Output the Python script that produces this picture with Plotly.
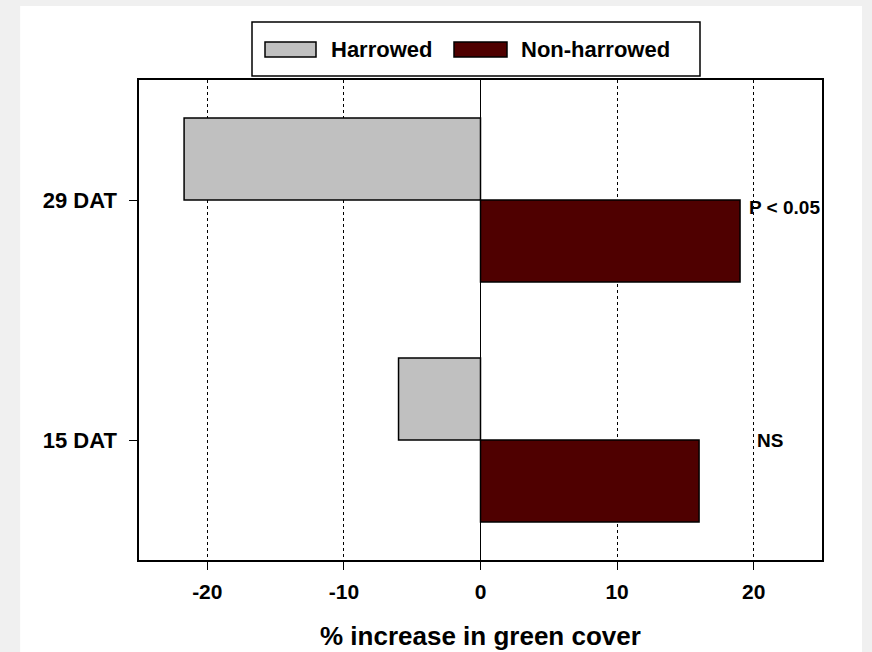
import plotly.graph_objects as go

# Data: % increase in green cover by sampling date and tillage treatment
dates = ["15 DAT", "29 DAT"]
harrowed = [-6.0, -21.7]
non_harrowed = [16.0, 19.0]
significance = ["NS", "P < 0.05"]
sig_x = [20.1, 19.5]
sig_y_shift = [0.0, -0.03]
x_ticks = [-20, -10, 0, 10, 20]

GRAY = "#c0c0c0"
DARK_RED = "#4f0000"
FONT = "Liberation Sans"
BAR_W = 0.342

fig = go.Figure()
fig.add_trace(go.Bar(
    y=dates, x=harrowed, orientation="h", name="Harrowed",
    offset=0, width=BAR_W,
    marker=dict(color=GRAY, line=dict(color="black", width=1.5)),
))
fig.add_trace(go.Bar(
    y=dates, x=non_harrowed, orientation="h", name="Non-harrowed",
    offset=-BAR_W, width=BAR_W,
    marker=dict(color=DARK_RED, line=dict(color="black", width=1.5)),
))

# Significance labels beside the non-harrowed bars
for i, (lab, sx) in enumerate(zip(significance, sig_x)):
    fig.add_annotation(
        x=sx, y=i + sig_y_shift[i], xref="x", yref="y", text=lab,
        showarrow=False, xanchor="left", yanchor="middle",
        font=dict(family=FONT, size=19, color="black", weight="bold"),
    )

# White panel on a light grey page
fig.add_shape(type="rect", xref="paper", yref="paper",
              x0=-0.174, x1=1.0586, y0=-0.25, y1=1.154,
              fillcolor="white", line=dict(width=0), layer="below")

# Legend box drawn in paper coordinates
def px_x(p):
    return (p - 139) / 683

def px_y(p):
    return (560 - p) / 480

fig.add_shape(type="rect", xref="paper", yref="paper",
              x0=px_x(252), x1=px_x(700), y0=px_y(76), y1=px_y(22),
              fillcolor="white", line=dict(color="black", width=1.5))
legend_items = [("Harrowed", GRAY, 265, 316, 329),
                ("Non-harrowed", DARK_RED, 454, 507, 519)]
for name, col, s0, s1, tx in legend_items:
    fig.add_shape(type="rect", xref="paper", yref="paper",
                  x0=px_x(s0), x1=px_x(s1), y0=px_y(57), y1=px_y(42),
                  fillcolor=col, line=dict(color="black", width=1.5))
    fig.add_annotation(x=px_x(tx), y=px_y(49.5), xref="paper", yref="paper",
                       text=name, showarrow=False, xanchor="left", yanchor="middle",
                       font=dict(family=FONT, size=22, color="black", weight="bold"))

# Axis title placed as text under the tick labels
fig.add_annotation(x=0.5, y=px_y(636), xref="paper", yref="paper",
                   text="% increase in green cover", showarrow=False,
                   xanchor="center", yanchor="middle",
                   font=dict(family=FONT, size=26, color="black", weight="bold"))

fig.update_layout(
    width=872, height=652,
    margin=dict(l=139, r=50, t=80, b=92),
    paper_bgcolor="#f0f0f0", plot_bgcolor="white",
    showlegend=False,
    xaxis=dict(
        range=[-25, 25], tickvals=x_ticks, ticktext=[str(v) for v in x_ticks],
        automargin=False,
        showgrid=True, gridcolor="black", gridwidth=1, griddash="dot",
        zeroline=True, zerolinecolor="black", zerolinewidth=1,
        showline=True, linecolor="black", linewidth=1.5, mirror=True,
        ticks="outside", ticklen=8, tickcolor="black", tickwidth=1,
        ticklabelstandoff=4,
        tickfont=dict(family=FONT, size=21, color="black", weight="bold"),
    ),
    yaxis=dict(
        type="category", categoryorder="array", categoryarray=dates,
        range=[-0.5, 1.5], automargin=False,
        showgrid=False, zeroline=False,
        showline=True, linecolor="black", linewidth=1.5, mirror=True,
        ticks="outside", ticklen=8, tickcolor="black", tickwidth=1,
        ticklabelstandoff=8,
        tickfont=dict(family=FONT, size=22, color="black", weight="bold"),
    ),
)

fig.write_html("out.html")
